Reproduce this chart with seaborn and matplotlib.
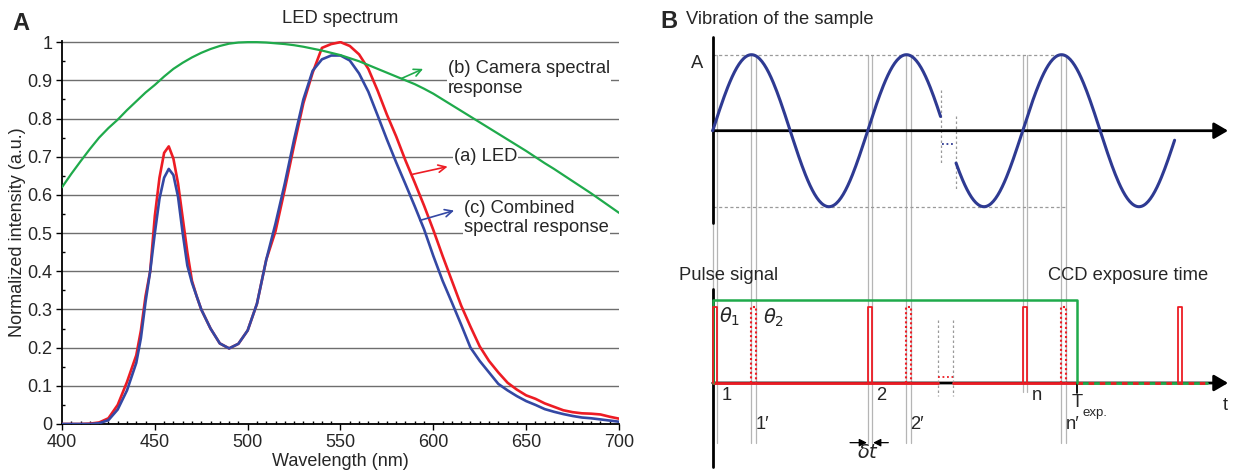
import numpy as np
import pandas as pd
import matplotlib
matplotlib.use("Agg")
import matplotlib.pyplot as plt
import seaborn as sns

# ---------------- Panel A data ----------------
wavelength = [400, 405, 410, 415, 420, 425, 430, 435, 440,
              442.5, 445, 447.5, 450, 452.5, 455, 457.5, 460, 462.5, 465, 467.5, 470, 472.5, 475,
              480, 485, 490, 495, 500, 505, 510, 515, 520, 525,
              530, 535, 540, 545, 550, 555, 560, 565, 570, 575,
              580, 585, 590, 595, 600, 605, 610, 615, 620, 625,
              630, 635, 640, 645, 650, 655, 660, 665, 670, 675,
              680, 685, 690, 695, 700]
led_intensity = [0, 0, 0, 0.001, 0.004, 0.015, 0.05, 0.11, 0.18,
                 0.245, 0.335, 0.40, 0.545, 0.645, 0.71, 0.727, 0.695, 0.63, 0.54, 0.45, 0.375, 0.335, 0.30,
                 0.25, 0.211, 0.198, 0.21, 0.245, 0.315, 0.43, 0.505, 0.615, 0.73,
                 0.84, 0.92, 0.985, 0.995, 1.0, 0.99, 0.968, 0.93, 0.873, 0.81,
                 0.753, 0.69, 0.632, 0.572, 0.508, 0.44, 0.375, 0.31, 0.255, 0.203,
                 0.165, 0.135, 0.108, 0.09, 0.075, 0.066, 0.054, 0.045, 0.036, 0.031,
                 0.028, 0.027, 0.025, 0.019, 0.014]
combined_response = [0, 0, 0, 0, 0.002, 0.01, 0.038, 0.088, 0.16,
                     0.225, 0.32, 0.40, 0.50, 0.59, 0.645, 0.668, 0.652, 0.595, 0.50, 0.415, 0.37, 0.335, 0.30,
                     0.25, 0.211, 0.198, 0.21, 0.245, 0.315, 0.43, 0.525, 0.63, 0.745,
                     0.85, 0.925, 0.955, 0.965, 0.965, 0.952, 0.918, 0.87, 0.808, 0.745,
                     0.685, 0.628, 0.57, 0.51, 0.44, 0.375, 0.318, 0.26, 0.20, 0.165,
                     0.135, 0.105, 0.088, 0.073, 0.06, 0.05, 0.039, 0.032, 0.026, 0.021,
                     0.017, 0.015, 0.012, 0.009, 0.006]
camera_wavelength = list(range(400, 701, 5))
camera_response = [0.62, 0.655, 0.688, 0.72, 0.75, 0.775, 0.797, 0.822, 0.845, 0.868,
                   0.888, 0.91, 0.93, 0.946, 0.96, 0.972, 0.982, 0.99, 0.996, 0.999,
                   1.0, 1.0, 0.999, 0.997, 0.995, 0.992, 0.988, 0.983, 0.978, 0.972,
                   0.966, 0.958, 0.95, 0.94, 0.93, 0.92, 0.91, 0.9, 0.89, 0.878,
                   0.865, 0.85, 0.835, 0.82, 0.805, 0.79, 0.775, 0.76, 0.745, 0.73,
                   0.715, 0.699, 0.683, 0.668, 0.652, 0.636, 0.62, 0.604, 0.587, 0.57, 0.553]
y_ticks = [0, 0.1, 0.2, 0.3, 0.4, 0.5, 0.6, 0.7, 0.8, 0.9, 1.0]
y_tick_labels = ["0", "0.1", "0.2", "0.3", "0.4", "0.5", "0.6", "0.7", "0.8", "0.9", "1"]
x_ticks = [400, 450, 500, 550, 600, 650, 700]

# ---------------- Panel B schematic parameters (time in vibration periods) ----------------
sine_segments = [(0.0, 1.47), (1.57, 2.98)]
pulse_times = [0, 1, 2, 3]            # pulses 1, 2, n, next
delayed_times = [0.25, 1.25, 2.25]    # pulses 1', 2', n'
pulse_labels = ["1", "2", "n"]
delayed_labels = ["1\u2032", "2\u2032", "n\u2032"]
pulse_width = 0.03
t_exposure = 2.35

# ---------------- style ----------------
sns.set_theme(style="white")
plt.rcParams["font.family"] = ["Liberation Sans", "DejaVu Sans"]
plt.rcParams["mathtext.fontset"] = "dejavusans"

W, H = 1235, 471
fig = plt.figure(figsize=(W / 100, H / 100), dpi=100)

RED = "#ed1c24"
BLUE = "#3448a4"
GREEN = "#1faa4b"
SINE_BLUE = "#2e3a92"
GRID = "#6e6e6e"
PAIR = "#b5b5b5"
FS = 13.2
TFS = 13

# ================= Panel A =================
axA = fig.add_axes([62 / W, 1 - 424 / H, 557 / W, 383 / H])
led_df = pd.DataFrame({"wavelength": wavelength, "led": led_intensity,
                       "combined": combined_response})
cam_df = pd.DataFrame({"wavelength": camera_wavelength, "camera": camera_response})

sns.lineplot(data=led_df, x="wavelength", y="led", ax=axA, color=RED, lw=1.9,
             estimator=None, zorder=4)
sns.lineplot(data=led_df, x="wavelength", y="combined", ax=axA, color=BLUE, lw=1.9,
             estimator=None, zorder=5)
sns.lineplot(data=cam_df, x="wavelength", y="camera", ax=axA, color=GREEN, lw=1.6,
             estimator=None, zorder=6)

axA.set_xlim(400, 700)
axA.set_ylim(0, 1.003)
axA.set_xticks(x_ticks)
axA.set_xticks(np.arange(400, 701, 5), minor=True)
axA.set_yticks(y_ticks)
axA.set_yticklabels(y_tick_labels)
axA.set_yticks(np.arange(0.05, 1.0, 0.1), minor=True)
axA.tick_params(axis="both", which="major", labelsize=TFS, length=4, width=1.0,
                direction="out", color="black", pad=3, left=True, bottom=True)
axA.tick_params(axis="both", which="minor", length=2.5, width=1.0, direction="in",
                color="black", left=True, bottom=True)
axA.yaxis.grid(True, which="major", color=GRID, lw=1.0)
axA.xaxis.grid(False)
axA.set_axisbelow(True)
for s in ["top", "right"]:
    axA.spines[s].set_visible(False)
for s in ["left", "bottom"]:
    axA.spines[s].set_color("black")
    axA.spines[s].set_linewidth(1.3)

axA.set_xlabel("Wavelength (nm)", fontsize=TFS)
axA.set_ylabel("Normalized intensity (a.u.)", fontsize=TFS)
axA.xaxis.set_label_coords(0.5, -0.099)
axA.xaxis.label.set_va("center")
axA.yaxis.set_label_coords(-(62 - 18) / 557, 0.5)
axA.yaxis.label.set_va("center")

axA.set_title("LED spectrum", fontsize=FS, pad=13)
fig.text(21 / W, 1 - 24 / H, "A", fontsize=17, fontweight="bold", ha="center", va="center")

box = dict(facecolor="white", edgecolor="none", pad=0.5)
axA.text(608, 0.952, "(b) Camera spectral\nresponse", fontsize=FS, ha="left", va="top",
         linespacing=1.2, bbox=box, zorder=3)
axA.annotate("", xy=(594.5, 0.930), xytext=(582.9, 0.905),
             arrowprops=dict(arrowstyle="->,head_length=0.45,head_width=0.22", color=GREEN,
                             lw=1.2, shrinkA=0, shrinkB=0), zorder=7)
axA.text(611, 0.700, "(a) LED", fontsize=FS, ha="left", va="center", bbox=box, zorder=3)
axA.annotate("", xy=(607.7, 0.674), xytext=(588.9, 0.654),
             arrowprops=dict(arrowstyle="->,head_length=0.45,head_width=0.22", color=RED,
                             lw=1.2, shrinkA=0, shrinkB=0), zorder=7)
axA.text(616.5, 0.587, "(c) Combined\nspectral response", fontsize=FS, ha="left", va="top",
         linespacing=1.2, bbox=box, zorder=3)
axA.annotate("", xy=(611.2, 0.559), xytext=(592.7, 0.533),
             arrowprops=dict(arrowstyle="->,head_length=0.45,head_width=0.22", color=BLUE,
                             lw=1.2, shrinkA=0, shrinkB=0), zorder=7)

# ================= Panel B =================
axB = fig.add_axes([690 / W, 0, 545 / W, 1])
axB.set_xlim(-0.1465, 3.3697)
axB.set_ylim(-4.478, 1.72)
axB.axis("off")

BASE = -3.32          # baseline of pulse diagram
PULSE_TOP = BASE + 1.0
CCD_TOP = BASE + 1.09

# gray guide-line pairs at every pulse instant
for p in sorted(pulse_times[:3] + delayed_times):
    y_low = -3.44 if p == 2 else -4.105
    for dx in (0.0, pulse_width):
        axB.plot([p + dx, p + dx], [1.0, y_low], color=PAIR, lw=0.9, zorder=1)

# amplitude dashed lines
for a in (1, -1):
    axB.plot([0, 2.273], [a, a], color="#9a9a9a", lw=0.9, ls=(0, (2.5, 2)), zorder=1)

# upper axes
axB.plot([0, 0], [-1.214, 1.237], color="black", lw=2.0, zorder=3)
axB.annotate("", xy=(3.325, 0), xytext=(0, 0),
             arrowprops=dict(arrowstyle="-|>,head_length=0.6,head_width=0.35", color="black",
                             lw=2.0, shrinkA=0, shrinkB=0, mutation_scale=14), zorder=3)

# sine wave of the sample vibration
for (t0, t1) in sine_segments:
    tt = np.linspace(t0, t1, 200)
    sns.lineplot(x=tt, y=np.sin(2 * np.pi * tt), ax=axB, color=SINE_BLUE, lw=2.2,
                 sort=False, estimator=None, zorder=4)
# break markers
gap0, gap1 = sine_segments[0][1], sine_segments[1][0]
axB.plot([gap0, gap0], [0.536, -0.451], color="#9a9a9a", lw=0.9, ls=(0, (2, 2)), zorder=2)
axB.plot([gap1, gap1], [0.193, -0.789], color="#9a9a9a", lw=0.9, ls=(0, (2, 2)), zorder=2)
axB.plot([gap0 + 0.01, gap1 - 0.005], [-0.175, -0.175], color=SINE_BLUE, lw=1.3,
         ls=(0, (1, 1.5)), zorder=2)
axB.text(-0.14, 0.878, "A", fontsize=FS, ha="left", va="center")
axB.text(-0.172, 1.457, "Vibration of the sample", fontsize=FS, ha="left", va="center")
fig.text(660 / W, 1 - 22 / H, "B", fontsize=17, fontweight="bold", ha="left", va="center")

# lower axes
axB.plot([0, 0], [-2.087, -4.421], color="black", lw=2.0, zorder=2)
axB.annotate("", xy=(3.325, BASE), xytext=(0, BASE),
             arrowprops=dict(arrowstyle="-|>,head_length=0.6,head_width=0.35", color="black",
                             lw=2.0, shrinkA=0, shrinkB=0, mutation_scale=14), zorder=2)
lo_gap0, lo_gap1 = 1.455, 1.552
axB.plot([0, lo_gap0], [BASE, BASE], color=RED, lw=2.0, zorder=3)
axB.plot([lo_gap1, t_exposure], [BASE, BASE], color=RED, lw=2.0, zorder=3)
axB.plot([lo_gap0, lo_gap1], [BASE + 0.075, BASE + 0.075], color=RED, lw=1.3,
         ls=(0, (1, 1.5)), zorder=3)
for g in (lo_gap0, lo_gap1):
    axB.plot([g, g], [-2.49, -3.487], color="#9a9a9a", lw=0.9, ls=(0, (2, 2)), zorder=2)
axB.plot([t_exposure, 3.187], [BASE, BASE], color=GREEN, lw=2.0, zorder=3)
axB.plot([t_exposure, 3.187], [BASE, BASE], color=RED, lw=2.0, ls=(0, (2, 2)), zorder=3)
axB.plot([t_exposure, t_exposure], [BASE, -3.45], color="black", lw=1.3, zorder=3)

# CCD exposure window
axB.plot([0, 0, t_exposure, t_exposure], [BASE, CCD_TOP, CCD_TOP, BASE], color=GREEN,
         lw=1.8, zorder=4)

# pulses
for p in pulse_times:
    axB.plot([p, p, p + pulse_width, p + pulse_width], [BASE, PULSE_TOP, PULSE_TOP, BASE],
             color=RED, lw=1.3, zorder=5)
for p in delayed_times:
    axB.plot([p, p, p + pulse_width, p + pulse_width], [BASE, PULSE_TOP, PULSE_TOP, BASE],
             color=RED, lw=1.5, ls=(0, (1, 1.2)), zorder=5)

# labels
axB.text(0.421, -1.899, "Pulse signal", fontsize=FS, ha="right", va="center")
axB.text(2.163, -1.899, "CCD exposure time", fontsize=FS, ha="left", va="center")
for p, lab in zip(pulse_times[:3], pulse_labels):
    axB.text(p + 0.09, -3.49, lab, fontsize=FS, ha="center", va="center")
for p, lab in zip(delayed_times, delayed_labels):
    axB.text(p + 0.07, -3.87, lab, fontsize=FS, ha="center", va="center")
axB.text(t_exposure + 0.003, -3.583, "T", fontsize=FS, ha="center", va="center")
axB.text(t_exposure + 0.039, -3.72, "exp.", fontsize=9.5, ha="left", va="center")
axB.text(3.305, -3.61, "t", fontsize=FS, ha="center", va="center")
axB.text(0.112, -2.447, r"$\theta_{\mathit{1}}$", fontsize=14, ha="center", va="center")
axB.text(0.391, -2.468, r"$\theta_{\mathit{2}}$", fontsize=14, ha="center", va="center")
axB.text(1.004, -4.245, r"$\delta t$", fontsize=14, ha="center", va="center")
axB.annotate("", xy=(0.995, -4.105), xytext=(0.886, -4.105),
             arrowprops=dict(arrowstyle="-|>,head_length=0.5,head_width=0.25", color="black",
                             lw=0.9, shrinkA=0, shrinkB=0, mutation_scale=9))
axB.annotate("", xy=(1.035, -4.105), xytext=(1.133, -4.105),
             arrowprops=dict(arrowstyle="-|>,head_length=0.5,head_width=0.25", color="black",
                             lw=0.9, shrinkA=0, shrinkB=0, mutation_scale=9))

fig.savefig("out.png", dpi=100)
